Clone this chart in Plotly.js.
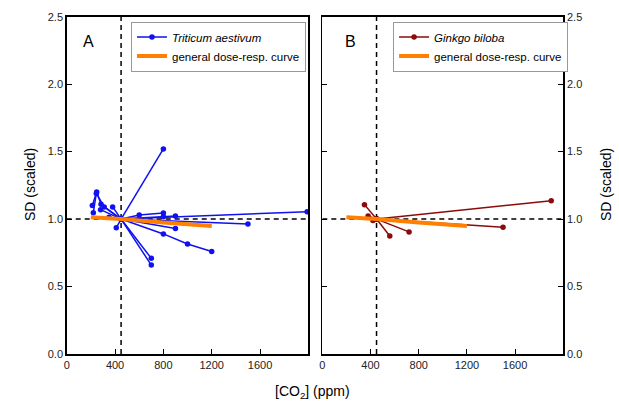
<!DOCTYPE html>
<html><head><meta charset="utf-8">
<script src="https://cdn.plot.ly/plotly-3.0.1.min.js"></script>
<style>html,body{margin:0;padding:0;background:#fff}#chart{width:619px;height:406px}</style>
</head><body><div id="chart"></div>
<script>
// ---- data ----
const xTicks = [0, 400, 800, 1200, 1600];
const yTicks = [0.0, 0.5, 1.0, 1.5, 2.0, 2.5];
const ambientCO2 = 450;

// Triticum aestivum: one array pair per study
const wheatX = [
  [450, 800], [450, 700], [450, 700], [450, 800, 1000, 1200], [450, 900],
  [450, 1500], [450, 1990], [450, 600, 800], [450, 800, 900],
  [212, 248, 284, 450], [220, 245, 310, 450], [280, 450], [380, 450],
  [350, 450], [410, 450]
];
const wheatY = [
  [1.0, 1.52], [1.0, 0.709], [1.0, 0.659], [1.0, 0.89, 0.815, 0.76], [1.0, 0.93],
  [1.0, 0.963], [1.0, 1.055], [1.0, 1.03, 1.045], [1.0, 1.017, 1.022],
  [1.10, 1.20, 1.11, 1.0], [1.047, 1.19, 1.09, 1.0], [1.07, 1.0], [1.09, 1.0],
  [1.013, 1.0], [0.935, 1.0]
];

// Ginkgo biloba
const ginkgoX = [[450, 1900], [450, 1500], [450, 720], [450, 560], [350, 450], [380, 450], [420, 450]];
const ginkgoY = [[1.0, 1.136], [1.0, 0.94], [1.0, 0.905], [1.0, 0.875], [1.107, 1.0], [1.023, 1.0], [0.99, 1.0]];

// general dose-response curve
const doseX = [200, 450, 800, 1200];
const doseY = [1.013, 1.0, 0.974, 0.948];

// ---- build ----
const blue = '#1010f0', red = '#8b0a0a', orange = '#ff8000';
const traces = [];
wheatX.forEach((xs, i) => traces.push({
  x: xs, y: wheatY[i], xaxis: 'x', yaxis: 'y', type: 'scatter', mode: 'lines+markers',
  line: {color: blue, width: 1.5}, marker: {color: blue, size: 5.5},
  name: '<i>Triticum aestivum</i>', legend: 'legend', showlegend: i === 0
}));
traces.push({x: doseX, y: doseY, xaxis: 'x', yaxis: 'y', type: 'scatter', mode: 'lines',
  line: {color: orange, width: 4}, name: 'general dose-resp. curve', legend: 'legend'});
ginkgoX.forEach((xs, i) => traces.push({
  x: xs, y: ginkgoY[i], xaxis: 'x2', yaxis: 'y2', type: 'scatter', mode: 'lines+markers',
  line: {color: red, width: 1.5}, marker: {color: red, size: 5.5},
  name: '<i>Ginkgo biloba</i>', legend: 'legend2', showlegend: i === 0
}));
traces.push({x: doseX, y: doseY, xaxis: 'x2', yaxis: 'y2', type: 'scatter', mode: 'lines',
  line: {color: orange, width: 4}, name: 'general dose-resp. curve', legend: 'legend2'});

const tickFont = {family: 'Liberation Sans, Arial, sans-serif', size: 11, color: '#222'};
const xBase = {
  range: [0, 2000], tickvals: xTicks, ticktext: xTicks.map(String), ticks: 'inside', ticklen: 5,
  tickcolor: '#000', showline: true, linecolor: '#000', linewidth: 1.5, mirror: true,
  showgrid: false, zeroline: false, tickfont: tickFont, fixedrange: true
};
const yBase = {
  range: [0, 2.5], tickvals: yTicks, ticktext: yTicks.map(v => v.toFixed(1)), ticks: 'inside', ticklen: 5,
  tickcolor: '#000', showline: true, linecolor: '#000', linewidth: 1.5,
  showgrid: false, zeroline: false, tickfont: tickFont, fixedrange: true,
  domain: [0.128, 0.959]
};

const dash = {color: '#000', width: 1.5, dash: '5px,4px'};
const shapes = [];
[['x', 'y'], ['x2', 'y2']].forEach(([xa, ya]) => {
  shapes.push({type: 'line', xref: xa, yref: ya, x0: 0, x1: 2000, y0: 1, y1: 1, line: dash, layer: 'below'});
  shapes.push({type: 'line', xref: xa, yref: ya, x0: ambientCO2, x1: ambientCO2, y0: 0, y1: 2.5, line: dash, layer: 'below'});
});

const legBase = {
  xref: 'paper', yref: 'paper', xanchor: 'left', yanchor: 'top',
  bgcolor: '#fff', bordercolor: '#999', borderwidth: 1,
  font: {family: 'Liberation Sans, Arial, sans-serif', size: 11.5, color: '#000'},
  tracegroupgap: 0, itemwidth: 30
};

const layout = {
  width: 619, height: 406, margin: {l: 0, r: 0, t: 0, b: 0},
  paper_bgcolor: '#fff', plot_bgcolor: '#fff', showlegend: true,
  font: {family: 'Liberation Sans, Arial, sans-serif'},
  xaxis: Object.assign({}, xBase, {domain: [0.1078, 0.4981], anchor: 'y'}),
  xaxis2: Object.assign({}, xBase, {domain: [0.5207, 0.9100], anchor: 'y2'}),
  yaxis: Object.assign({}, yBase, {anchor: 'x', side: 'left', mirror: true}),
  yaxis2: Object.assign({}, yBase, {anchor: 'x2', side: 'right', mirror: 'ticks'}),
  legend: Object.assign({}, legBase, {x: 0.2116, y: 0.947}),
  legend2: Object.assign({}, legBase, {x: 0.635, y: 0.947}),
  shapes: shapes,
  annotations: [
    {text: 'A', xref: 'paper', yref: 'paper', x: 88 / 619, y: 1 - 41 / 406, showarrow: false,
     font: {size: 16, color: '#000'}, xanchor: 'center', yanchor: 'middle'},
    {text: 'B', xref: 'paper', yref: 'paper', x: 350 / 619, y: 1 - 41 / 406, showarrow: false,
     font: {size: 16, color: '#000'}, xanchor: 'center', yanchor: 'middle'},
    {text: 'SD (scaled)', xref: 'paper', yref: 'paper', x: 30 / 619, y: 1 - 185 / 406, showarrow: false,
     textangle: -90, font: {size: 14, color: '#000'}, xanchor: 'center', yanchor: 'middle'},
    {text: 'SD (scaled)', xref: 'paper', yref: 'paper', x: 606 / 619, y: 1 - 185 / 406, showarrow: false,
     textangle: -90, font: {size: 14, color: '#000'}, xanchor: 'center', yanchor: 'middle'},
    {text: '[CO<sub>2</sub>] (ppm)', xref: 'paper', yref: 'paper', x: 312 / 619, y: 1 - 392 / 406, showarrow: false,
     font: {size: 14, color: '#000'}, xanchor: 'center', yanchor: 'middle'}
  ]
};

Plotly.newPlot('chart', traces, layout, {staticPlot: true, displayModeBar: false});
</script></body></html>
